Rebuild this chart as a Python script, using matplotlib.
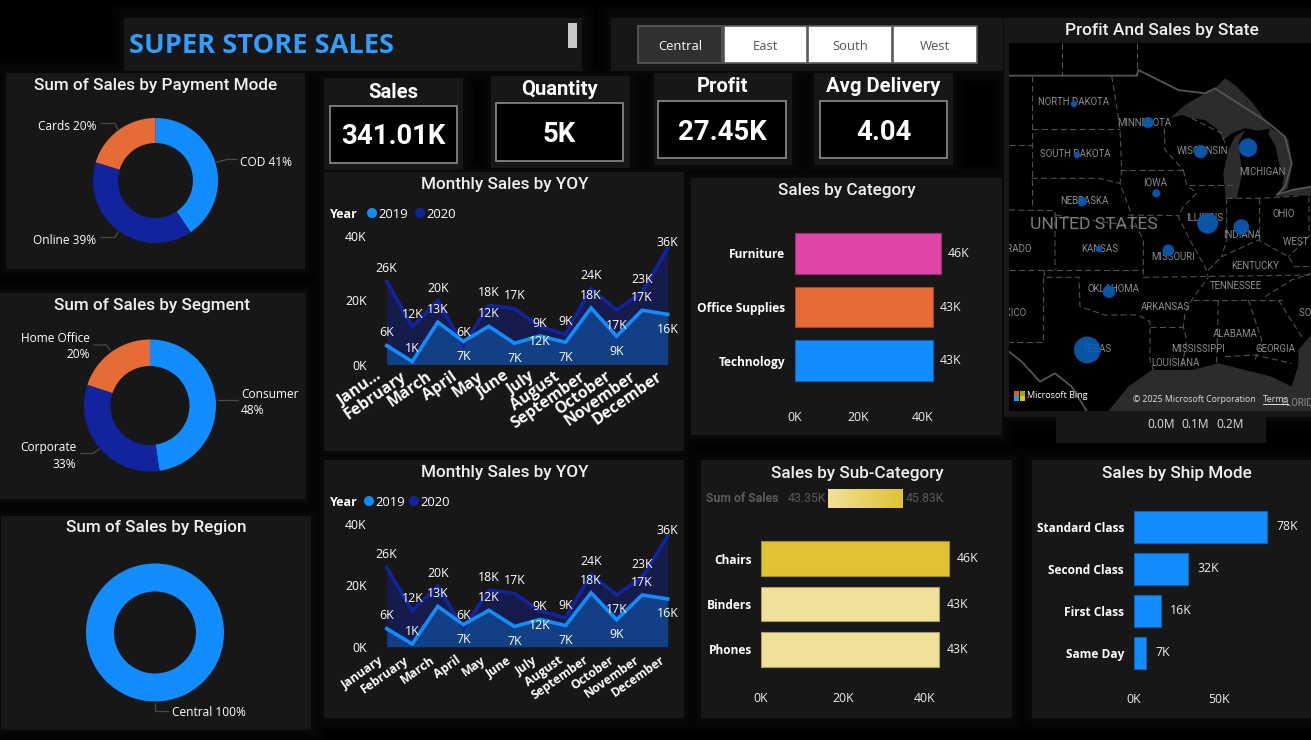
import numpy as np
import matplotlib
matplotlib.use("Agg")
import matplotlib.pyplot as plt
from matplotlib.patches import Rectangle, Polygon
from matplotlib.colors import LinearSegmentedColormap
from matplotlib.transforms import ScaledTranslation

# ---------- data ----------
months_full = ["January", "February", "March", "April", "May", "June", "July", "August",
               "September", "October", "November", "December"]
months_cut = ["Janu..."] + months_full[1:]
sales_2019 = [5.9, 0.9, 13.2, 7.2, 11.9, 6.6, 8.9, 6.9, 17.6, 8.8, 16.9, 15.6]
sales_2020 = [25.9, 11.7, 19.8, 5.9, 18.4, 17.4, 11.7, 9.4, 23.6, 16.9, 22.6, 36.1]
side_2019 = [1, 1, 1, -1, 1, -1, 1, -1, 1, -1, 1, -1]
side_2020 = [1, 1, 1, 1, 1, 1, -1, 1, 1, -1, 1, 0.5]

pay_labels = ["COD 41%", "Online 39%", "Cards 20%"]
pay_values = [40.5, 39.2, 20.3]
seg_labels = ["Consumer\n48%", "Corporate\n33%", "Home Office\n20%"]
seg_values = [47.7, 32.4, 19.9]
region_labels = ["Central 100%"]
region_values = [100]

kpi_names = ["Sales", "Quantity", "Profit", "Avg Delivery"]
kpi_values = ["341.01K", "5K", "27.45K", "4.04"]
slicer_names = ["Central", "East", "South", "West"]

cat_names = ["Furniture", "Office Supplies", "Technology"]
cat_values = [45.7, 43.3, 43.3]
sub_names = ["Chairs", "Binders", "Phones"]
sub_values = [45.83, 43.35, 43.35]
ship_names = ["Standard Class", "Second Class", "First Class", "Same Day"]
ship_values = [77.6, 31.7, 15.8, 7.3]

states = ["North Dakota", "Minnesota", "South Dakota", "Wisconsin", "Michigan", "Iowa", "Nebraska",
          "Illinois", "Indiana", "Kansas", "Missouri", "Oklahoma", "Texas"]
state_x = [207, 429, 216, 587, 729, 454, 231, 608, 709, 282, 490, 312, 247]
state_y = [192, 248, 345, 335, 323, 460, 485, 550, 561, 627, 631, 755, 930]
state_sales = [9, 27, 9, 40, 80, 14, 20, 101, 56, 9, 31, 36, 170]

map_text = [("NORTH DAKOTA", 205, 186), ("MINNESOTA", 417, 248), ("SOUTH DAKOTA", 212, 341),
            ("WISCONSIN", 593, 334), ("MICHIGAN", 773, 397), ("IOWA", 450, 428), ("NEBRASKA", 238, 484),
            ("ILLINOIS", 600, 533), ("INDIANA", 712, 584), ("OHIO", 836, 521), ("WEST VIRGINIA", 935, 607),
            ("KANSAS", 283, 627), ("MISSOURI", 505, 652), ("KENTUCKY", 750, 677), ("TENNESSEE", 693, 739),
            ("OKLAHOMA", 325, 746), ("ARKANSAS", 482, 801), ("ALABAMA", 692, 881), ("MISSISSIPPI", 580, 926),
            ("GEORGIA", 812, 926), ("TEXAS", 277, 926), ("LOUISIANA", 512, 969), ("COLORADO", 5, 627),
            ("NEW MEXICO", -25, 820), ("FLORIDA", 885, 1088), ("SOUTH CAROLINA", 1000, 820)]

water = [
    [(495, 235), (540, 195), (600, 160), (630, 145), (660, 115), (690, 135), (740, 185), (785, 245), (800, 265),
     (760, 272), (720, 265), (680, 280), (655, 300), (640, 270), (600, 240), (560, 235), (530, 225)],
    [(662, 475), (655, 400), (670, 330), (690, 290), (720, 270), (700, 310), (712, 400), (695, 475)],
    [(795, 262), (850, 298), (862, 375), (848, 445), (815, 470), (832, 440), (838, 400), (822, 370), (812, 320), (790, 282)],
    [(815, 472), (860, 450), (918, 440), (918, 468), (860, 466)],
    [(310, 1113), (370, 1040), (440, 990), (560, 990), (640, 970), (720, 990), (800, 1010), (860, 1040), (880, 975),
     (880, 930), (918, 885), (918, 1113)],
]
border_main = [(12, 107), (395, 107), (400, 90), (520, 150), (600, 160), (630, 145), (785, 245), (840, 290),
               (860, 370), (840, 440), (815, 465), (860, 450), (918, 440)]
border_mex = [(12, 935), (50, 965), (105, 1025), (150, 1000), (200, 1040), (245, 1113)]
borders = [
    [(80, 107), (80, 505)], [(320, 107), (335, 200), (345, 268), (350, 390), (345, 430), (380, 525), (395, 560),
                             (415, 600), (415, 712)],
    [(80, 268), (345, 268)], [(80, 415), (280, 415), (345, 430)], [(345, 390), (535, 390)],
    [(535, 390), (545, 435), (575, 460), (535, 500), (520, 530), (560, 610), (600, 680), (610, 712), (560, 780),
     (540, 820), (535, 862), (545, 900), (530, 990)],
    [(370, 525), (520, 527)], [(12, 510), (150, 512), (150, 690)], [(150, 525), (395, 560)], [(12, 690), (415, 690)],
    [(415, 712), (918, 705)], [(435, 862), (535, 862)], [(118, 690), (118, 712), (222, 712), (225, 800), (300, 825),
                                                          (400, 825), (435, 845), (435, 960), (445, 990)],
    [(115, 712), (115, 905), (12, 905)], [(640, 780), (635, 970)], [(730, 780), (770, 900), (750, 960)],
    [(565, 780), (830, 780)], [(610, 690), (650, 650), (760, 600), (850, 650), (870, 680), (918, 680)],
    [(665, 475), (665, 600), (650, 650)], [(762, 475), (762, 600)], [(665, 475), (762, 475), (880, 468)],
    [(553, 435), (685, 435)], [(478, 265), (480, 330), (535, 390)], [(560, 235), (650, 280), (660, 310)],
    [(912, 470), (912, 590), (850, 650)], [(780, 770), (860, 720), (918, 700)], [(820, 780), (890, 890)],
    [(660, 950), (750, 945), (860, 970)], [(170, 10), (170, 107)], [(395, 10), (395, 107)], [(12, 315), (80, 315)],
]

# ---------- style ----------
W, H = 1311, 740
BLUE, NAVY, ORANGE, PINK = "#118DFF", "#12239E", "#E66C37", "#E044A7"
PANEL = "#171717"
BODY = "Open Sans"
HEAD = "Roboto"
plt.rcParams["font.family"] = [BODY, "DejaVu Sans"]

fig = plt.figure(figsize=(W / 100, H / 100), dpi=100, facecolor="black")


def px_axes(x0, y0, x1, y1, z=2):
    ax = fig.add_axes([x0 / W, 1 - y1 / H, (x1 - x0) / W, (y1 - y0) / H], zorder=z)
    ax.patch.set_alpha(0)
    return ax


bg = px_axes(0, 0, W, H, 0)
fg = px_axes(0, 0, W, H, 10)
for a in (bg, fg):
    a.set_xlim(0, W)
    a.set_ylim(H, 0)
    a.axis("off")


def panel(x0, y0, x1, y1, color=PANEL, glow=True, edge="none"):
    if glow:
        for g, c, z in ((12, "#030303", 1), (8, "#050505", 1.1), (4, "#080808", 1.2)):
            bg.add_patch(Rectangle((x0 - g, y0 - g), x1 - x0 + 2 * g, y1 - y0 + 2 * g, fc=c, ec="none", zorder=z))
    bg.add_patch(Rectangle((x0, y0), x1 - x0, y1 - y0, fc=color, ec=edge, lw=1, zorder=3))


def title(x, y, s, size=12.3):
    fg.text(x, y + 1.5, s, color="#f0f0f0", fontsize=size, family=HEAD, weight="medium", ha="center", va="center")


# ---------- panels ----------
panel(124, 18, 582, 71)
panel(611, 18, 1003, 71)
panel(6, 73, 305, 269)
panel(0, 293, 306, 499)
panel(1, 516, 311, 730)
panel(324, 172, 684, 451)
panel(324, 460, 684, 718)
panel(691, 178, 1002, 435)
panel(701, 460, 1012, 718)
panel(1032, 460, 1311, 718)
panel(1056, 417, 1266, 443, glow=False)
panel(1004, 18, 1311, 417)

fg.text(129, 46, "SUPER STORE SALES", color="#339CFF", fontsize=19.6, weight="bold", va="center", ha="left")
fg.add_patch(Rectangle((568, 23), 9, 25, fc="#c8c8c8", ec="none"))

# slicer
btn_x = [638, 724, 808, 893]
btn_w = [84, 83, 84, 84]
for i, name in enumerate(slicer_names):
    on = i == 0
    fg.add_patch(Rectangle((btn_x[i], 26), btn_w[i], 37, fc="#303030" if on else "white", ec="#5c5c5c", lw=1.2))
    fg.text(btn_x[i] + btn_w[i] / 2, 46.5, name, color="white" if on else "#555555", fontsize=9.4, ha="center", va="center")

# KPI cards
card_panel = [(324, 78, 463, 170), (491, 76, 630, 168), (654, 73, 792, 165), (814, 73, 953, 165)]
card_box = [(330, 106, 457, 163), (496, 103, 623, 161), (658, 101, 786, 158), (820, 101, 947, 158)]
for name, val, p, b in zip(kpi_names, kpi_values, card_panel, card_box):
    panel(*p)
    fg.add_patch(Rectangle((b[0], b[1]), b[2] - b[0], b[3] - b[1], fc="black", ec="#8c8c8c", lw=1.2))
    fg.text((b[0] + b[2]) / 2, (p[1] + b[1]) / 2, name, color="white", fontsize=14.6, weight="bold",
            family=HEAD, ha="center", va="center")
    fg.text((b[0] + b[2]) / 2, (b[1] + b[3]) / 2 + 2.5, val, color="white", fontsize=19.8, weight="bold",
            family=HEAD, ha="center", va="center")


# ---------- donuts ----------
def donut(cx, cy, r, r_in, values, colors):
    ax = px_axes(cx - r, cy - r, cx + r, cy + r)
    ax.pie(values, colors=colors, startangle=90, counterclock=False, radius=1,
           wedgeprops=dict(width=1 - r_in / r, linewidth=0))
    ax.set_xlim(-1, 1)
    ax.set_ylim(-1, 1)


def leader(pts):
    xs, ys = zip(*pts)
    fg.plot(xs, ys, color="#4a4a4a", lw=0.9)


def lab(x, y, s, ha="left", size=8.6):
    fg.text(x, y + 1, s, color="white", fontsize=size, ha=ha, va="center", linespacing=1.3)


title(156, 84, "Sum of Sales by Payment Mode")
donut(155.5, 180.5, 62.5, 37.5, pay_values, [BLUE, NAVY, ORANGE])
lab(240, 161, pay_labels[0])
lab(96.5, 239, pay_labels[1], ha="right")
lab(97, 125, pay_labels[2], ha="right")
leader([(217, 162), (227, 159.5), (237, 159.5)])
leader([(118, 232), (115, 237.5), (101, 237.5)])
leader([(118, 130), (115, 123.5), (101, 123.5)])

title(152, 304, "Sum of Sales by Segment")
donut(150, 405.5, 66, 39.5, seg_values, [BLUE, NAVY, ORANGE])
lab(241, 401, seg_labels[0])
lab(76.5, 455, seg_labels[1], ha="right")
lab(90, 346, seg_labels[2], ha="right")
leader([(217.5, 400), (237.5, 400)])
leader([(99, 449), (93, 453.5), (81, 453.5)])
leader([(110, 350), (106.5, 345), (94.5, 345)])

title(156, 526, "Sum of Sales by Region")
donut(155, 632.5, 69, 41, region_values, [BLUE])
lab(172, 711.5, region_labels[0])
leader([(155, 703), (155, 710.5), (168, 710.5)])


# ---------- monthly area charts ----------
def monthly(y_top, y_zero, tick_labels, rot_size, title_y, legend_y, dot_x, pad, shift_px):
    x_first, x_last = 386.7, 667.7
    ax = px_axes(x_first, y_top, x_last, y_zero)
    x = np.arange(12)
    ax.set_xlim(0, 11)
    ax.set_ylim(0, 40)
    ax.fill_between(x, sales_2020, color=NAVY, alpha=0.38, lw=0)
    ax.fill_between(x, sales_2019, color=BLUE, alpha=0.32, lw=0)
    ax.plot(x, sales_2020, color=NAVY, lw=2.6, solid_joinstyle="miter", clip_on=False)
    ax.plot(x, sales_2019, color=BLUE, lw=2.6, solid_joinstyle="miter", clip_on=False)
    for series, sides in ((sales_2019, side_2019), (sales_2020, side_2020)):
        for i, (v, s) in enumerate(zip(series, sides)):
            ax.annotate(f"{round(v)}K", (i, v), xytext=(0, 10 * s - 0.8), textcoords="offset points",
                        color="white", fontsize=8.8, ha="center", va="center", annotation_clip=False)
    for sp in ax.spines.values():
        sp.set_visible(False)
    ax.set_yticks([0, 20, 40], ["0K", "20K", "40K"], color="white", fontsize=8.8)
    ax.tick_params(axis="y", length=0, pad=14.5)
    ax.set_xticks(x, tick_labels, rotation=35, ha="right", rotation_mode="anchor", color="white",
                  fontsize=rot_size, weight="bold")
    ax.tick_params(axis="x", length=0, pad=pad)
    off = ScaledTranslation(-shift_px / 100, 0, fig.dpi_scale_trans)
    for t in ax.get_xticklabels():
        t.set_transform(t.get_transform() + off)
    title(505, title_y, "Monthly Sales by YOY")
    fg.text(330, legend_y + 1, "Year", color="white", fontsize=9, weight="bold", va="center")
    fg.scatter([dot_x[0], dot_x[1]], [legend_y, legend_y], s=52, color=[BLUE, NAVY], lw=0)
    lab(dot_x[0] + 6, legend_y, "2019", size=9.4)
    lab(dot_x[1] + 6, legend_y, "2020", size=9.4)


monthly(236, 364.5, months_cut, 11.4, 183, 213, (372, 420), 3, 12)
monthly(524.3, 646.7, months_full, 8.8, 471, 501, (369, 414), 5, 8)


# ---------- bar charts ----------
def bars(x0, x_end, px_per_k, top, bottom, names, values, colors, edges, ticks, lab_gap, size, val_pad, tick_pad):
    ax = px_axes(x0, top, x_end, bottom)
    ax.set_xlim(0, (x_end - x0) / px_per_k)
    ax.set_ylim(len(names) - 0.5, -0.5)
    ax.barh(range(len(names)), values, height=0.76, color=colors, edgecolor=edges, linewidth=0.8)
    for i, v in enumerate(values):
        ax.annotate(f"{round(v)}K", (v, i), xytext=(val_pad, 0), textcoords="offset points", color="#eeeeee",
                    fontsize=8.8, va="center")
    for sp in ax.spines.values():
        sp.set_visible(False)
    ax.set_yticks(range(len(names)), names, color="white", fontsize=size, weight="bold")
    ax.set_xticks(ticks, [f"{t}K" for t in ticks], color="#eeeeee", fontsize=8.8)
    ax.tick_params(axis="y", length=0, pad=lab_gap)
    ax.tick_params(axis="x", length=0, pad=tick_pad)


title(847, 189, "Sales by Category")
bars(794.5, 1000, 3.2, 226.5, 387.5, cat_names, cat_values, [PINK, ORANGE, BLUE], ["#96307A", "#96492A", "#0F62B0"],
     [0, 20, 40], 6.5, 8.6, 5, 16.7)

title(857, 472, "Sales by Sub-Category")
GOLD, PALE = "#E0C233", "#F0E199"
sub_colors = [GOLD, PALE, PALE]
bars(761, 1010, 4.1, 536, 672, sub_names, sub_values, sub_colors, ["#A08A2A", "#A59C68", "#A59C68"],
     [0, 20, 40], 6.5, 8.6, 6, 14.5)
fg.text(706, 499, "Sum of Sales", color="#5a5a5a", fontsize=8.8, weight="bold", va="center",
        family=HEAD)
fg.text(788, 499, "43.35K", color="#5a5a5a", fontsize=8.8, va="center", family=HEAD)
fg.text(906, 499, "45.83K", color="#5a5a5a", fontsize=8.8, va="center", family=HEAD)
grad_ax = px_axes(828, 489, 902.5, 507.5)
grad_ax.imshow(np.linspace(0, 1, 64).reshape(1, -1), aspect="auto",
               cmap=LinearSegmentedColormap.from_list("gold", [PALE, GOLD]))
grad_ax.axis("off")

title(1177, 472, "Sales by Ship Mode")
bars(1133.5, 1308, 1.72, 506, 674, ship_names, ship_values, BLUE, "#0F62B0", [0, 50], 6.8, 8.6, 6.5, 14)

# ---------- map ----------
title(1162, 28.5, "Profit And Sales by State", size=12.5)
mp = px_axes(1009, 43, 1311, 411, 3)
mp.patch.set_alpha(1)
mp.patch.set_facecolor("black")
mp.set_xlim(12, 918)
mp.set_ylim(1113, 9)
mp.set_xticks([])
mp.set_yticks([])
for sp in mp.spines.values():
    sp.set_visible(False)
for poly in water:
    mp.add_patch(Polygon(poly, closed=True, fc="#2c2c2c", ec="none"))
for b in borders:
    xs, ys = zip(*b)
    mp.plot(xs, ys, color="#505050", lw=0.8, ls=(0, (5.5, 3)))
for b in (border_main, border_mex):
    xs, ys = zip(*b)
    mp.plot(xs, ys, color="#555555", lw=1.3)
for s, x, y in map_text:
    mp.text(x, y, s, color="#8c8c8c", fontsize=6.9, family=HEAD, ha="center", va="center", clip_on=True)
mp.text(266, 553, "UNITED STATES", color="#7d7d7d", fontsize=12.6, family=HEAD, ha="center", va="center")
mp.scatter(state_x, state_y, s=np.array(state_sales) * 2.08, color="#0B5CB5", alpha=0.92, edgecolors="#0A4F9C",
           linewidths=0.6, zorder=5)
for (fx, fy, c) in ((28, 1052, "#F25022"), (44, 1052, "#7FBA00"), (28, 1068, "#00A4EF"), (44, 1068, "#FFB900")):
    mp.add_patch(Rectangle((fx, fy), 15, 15, fc=c, ec="none", zorder=6))
mp.text(65, 1068, "Microsoft Bing", color="white", fontsize=6.5, va="center", zorder=6)
mp.text(385, 1078, "© 2025 Microsoft Corporation", color="#dddddd", fontsize=6.3, va="center", zorder=6)
mp.text(775, 1078, "Terms", color="#dddddd", fontsize=6.3, va="center", zorder=6)
mp.plot([775, 848], [1091, 1091], color="#dddddd", lw=0.7, zorder=6)
fg.text(1147, 424, "0.0M", color="#dddddd", fontsize=8.6, va="center")
fg.text(1181, 424, "0.1M", color="#dddddd", fontsize=8.6, va="center")
fg.text(1216, 424, "0.2M", color="#dddddd", fontsize=8.6, va="center")

fig.savefig("out.png", dpi=100, facecolor="black")
